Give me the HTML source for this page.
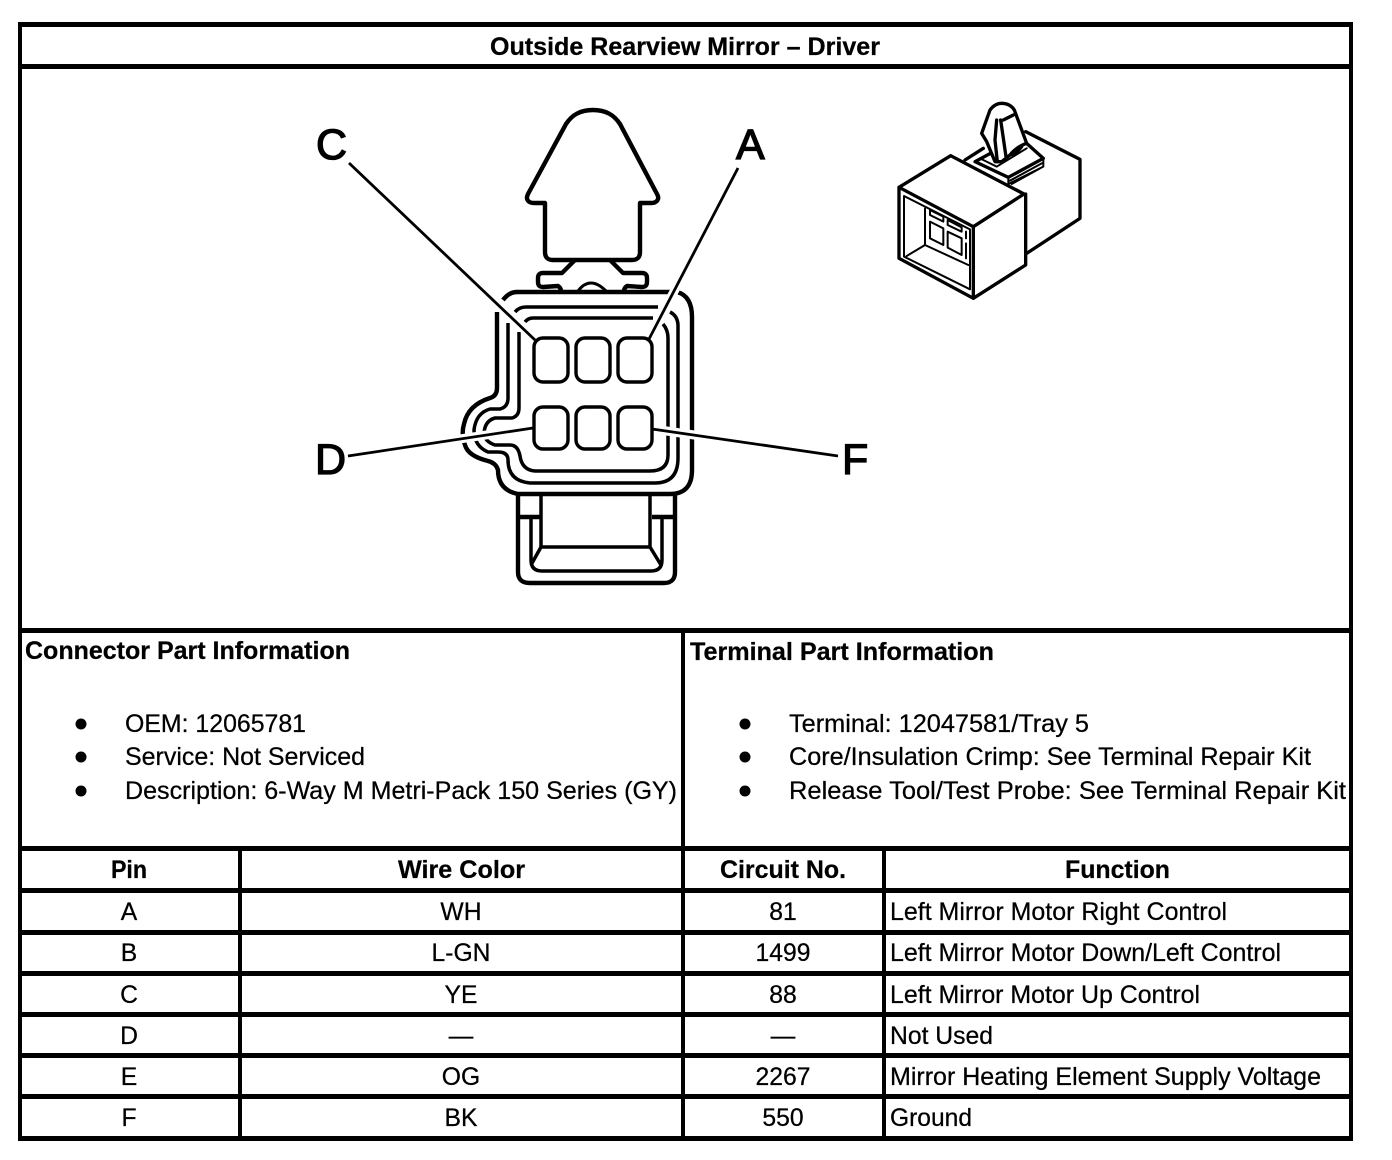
<!DOCTYPE html>
<html><head><meta charset="utf-8"><style>
html,body{margin:0;padding:0;background:#fff}
svg{display:block}
text{font-family:"Liberation Sans",Arial,sans-serif;font-size:24.7px;fill:#000;stroke:#000;stroke-width:.25}
.b{font-weight:bold}
.m{text-anchor:middle}
.l{font-size:43px;stroke-width:1.3}
.tk{fill:none;stroke:#000;stroke-width:4.4;stroke-linejoin:round;stroke-linecap:butt}
.md{fill:none;stroke:#000;stroke-width:3.5;stroke-linejoin:round}
.pin{fill:#fff;stroke:#000;stroke-width:3.4}
.iso{fill:none;stroke:#000;stroke-width:10;stroke-linejoin:round;stroke-linecap:round}
.iso2{fill:none;stroke:#000;stroke-width:6;stroke-linejoin:round;stroke-linecap:round}
</style></head><body>
<svg width="1392" height="1160" viewBox="0 0 1392 1160" xmlns="http://www.w3.org/2000/svg">
<rect width="1392" height="1160" fill="#fff"/>
<g fill="#000" shape-rendering="crispEdges">
<rect x="18" y="22" width="1335" height="5"/>
<rect x="18" y="64" width="1335" height="5"/>
<rect x="18" y="628" width="1335" height="5"/>
<rect x="18" y="846" width="1335" height="5"/>
<rect x="18" y="888" width="1335" height="5"/>
<rect x="18" y="930" width="1335" height="5"/>
<rect x="18" y="971" width="1335" height="5"/>
<rect x="18" y="1012" width="1335" height="5"/>
<rect x="18" y="1053" width="1335" height="5"/>
<rect x="18" y="1094" width="1335" height="5"/>
<rect x="18" y="1136" width="1335" height="5"/>
<rect x="18" y="22" width="4" height="1119"/>
<rect x="1349" y="22" width="4" height="1119"/>
<rect x="681" y="628" width="4" height="513"/>
<rect x="238" y="846" width="4" height="295"/>
<rect x="882" y="846" width="4" height="295"/>
</g>

<!-- main connector -->
<path class="tk" d="M593 110C580 110 572 115 566 124L528 194C525 200 529 203 534 203L545 203L545 252Q545 260 553 260L632 260Q640 260 640 252L640 203L651 203C657 203 660 199 657 194L620 124C614 115 606 110 593 110Z"/>
<path class="tk" d="M575 260L562 273L543 273Q538 273 538 278L538 282Q538 287 543 287L558 286Q561 288 561 291"/>
<path class="tk" d="M610 260L623 273L642 273Q647 273 647 278L647 282Q647 287 642 287L627 286Q624 288 624 291"/>
<path class="tk" style="stroke-width:3" d="M578 291Q590 275 606 291"/>
<path class="tk" d="M503 300Q509 292 517 292L677 292Q692 296 692 317L692 470Q692 494 670 494L518 494Q498 490 498 470Q496 463 488 461Q468 456 465 445Q461 434 464 424Q468 405 490 398Q497 396 497 388L497 312"/>
<path class="md" d="M515 312Q519 307 526 307L658 307M670 312Q678 316 678 326L678 458Q678 483 655 483L530 483Q508 481 508 460Q508 452 498 452L488 452Q474 446 474 430Q476 413 490 409L500 409Q508 407 508 398L508 323"/>
<path class="md" d="M525 322Q528 318 533 318L653 318M663 324Q668 330 668 338L668 455Q668 471 650 471L535 471Q522 470 520 456Q518 445 510 445L495 445Q486 442 484 435Q484 421 495 418L512 418Q519 416 519 408L519 332"/>
<rect class="pin" x="576" y="338" width="34" height="44" rx="9"/>
<rect class="pin" x="576" y="407" width="34" height="42" rx="9"/>
<path class="tk" d="M518 494L518 572Q518 583 530 583L664 583Q675 583 675 572L675 494M518 517H541M652 517H675"/>
<path class="md" d="M541 494V547H650V494M531 517V560Q531 571 542 571L651 571Q662 571 662 560V517M541 547L531 565M650 547L661 565"/>

<!-- leader halos + leaders -->
<g fill="none" stroke="#fff" stroke-width="9">
<path d="M349 163L532 337M738 168L651 336M348 456L532 428M653 429L838 456"/>
</g>
<rect class="pin" x="534" y="338" width="34" height="44" rx="9"/>
<rect class="pin" x="618" y="338" width="34" height="44" rx="9"/>
<rect class="pin" x="534" y="407" width="34" height="42" rx="9"/>
<rect class="pin" x="618" y="407" width="34" height="42" rx="9"/>
<g fill="none" stroke="#000" stroke-width="2.8">
<path d="M349 163L535 340M738 168L648 341M348 456L533 428M652 429L838 456"/>
</g>
<text class="l" x="316" y="159">C</text>
<text class="l" x="736" y="159">A</text>
<text class="l" x="315" y="474">D</text>
<text class="l" x="842" y="474">F</text>

<!-- isometric connector -->
<g transform="translate(880 90) scale(.33333)">
<path class="iso" d="M57 292L212 197L432 312L280 410Z M57 292V505L280 625V410 M280 625L437 525V312 M440 490L600 385V208L437 125 M255 210L310 175"/>
<path class="iso2" d="M72 318L270 418V598L72 500Z M80 498L135 465L265 525 M135 355V465"/>
<path class="iso2" d="M150 360L190 380V395L150 375Z M150 395L190 415V465L150 445Z M203 390L245 412V425L203 405Z M203 425L245 445V495L203 473Z M258 425V445M258 460V505"/>
<path class="iso" style="fill:#fff" d="M285 215L350 180L440 160L490 205L385 262Z"/>
<path class="iso2" d="M385 262V282L490 230V205 M390 272L485 220 M395 282L480 235 M300 205L350 230L440 175"/>
<path class="iso" style="fill:#fff" d="M345 215L320 155L305 130L330 60Q345 40 365 40Q390 40 403 60L440 160Q410 170 390 195L365 215Z"/>
<path class="iso" d="M350 90L345 150L352 215M362 90L378 200M370 90L400 75M390 195Q410 190 425 170"/>
</g>

<text class="b m" x="685" y="55" textLength="390" lengthAdjust="spacingAndGlyphs">Outside Rearview Mirror – Driver</text>
<text class="b" x="25" y="659" textLength="325" lengthAdjust="spacingAndGlyphs">Connector Part Information</text>
<text class="b" x="690" y="660" textLength="304" lengthAdjust="spacingAndGlyphs">Terminal Part Information</text>

<g fill="#000">
<circle cx="81" cy="724" r="5.5"/><circle cx="81" cy="757" r="5.5"/><circle cx="81" cy="791" r="5.5"/>
<circle cx="745" cy="724" r="5.5"/><circle cx="745" cy="757" r="5.5"/><circle cx="745" cy="791" r="5.5"/>
</g>
<text x="125" y="732" textLength="181" lengthAdjust="spacingAndGlyphs">OEM: 12065781</text>
<text x="125" y="765" textLength="240" lengthAdjust="spacingAndGlyphs">Service: Not Serviced</text>
<text x="125" y="799" textLength="552" lengthAdjust="spacingAndGlyphs">Description: 6-Way M Metri-Pack 150 Series (GY)</text>
<text x="789" y="732" textLength="300" lengthAdjust="spacingAndGlyphs">Terminal: 12047581/Tray 5</text>
<text x="789" y="765" textLength="522" lengthAdjust="spacingAndGlyphs">Core/Insulation Crimp: See Terminal Repair Kit</text>
<text x="789" y="799" textLength="557" lengthAdjust="spacingAndGlyphs">Release Tool/Test Probe: See Terminal Repair Kit</text>

<text class="b m" x="129" y="878" textLength="36" lengthAdjust="spacingAndGlyphs">Pin</text>
<text class="b m" x="461.500" y="878" textLength="127" lengthAdjust="spacingAndGlyphs">Wire Color</text>
<text class="b m" x="783" y="878" textLength="126" lengthAdjust="spacingAndGlyphs">Circuit No.</text>
<text class="b m" x="1117.500" y="878" textLength="105" lengthAdjust="spacingAndGlyphs">Function</text>

<text class="m" x="129" y="920">A</text><text class="m" x="461" y="920">WH</text><text class="m" x="783" y="920">81</text><text x="890" y="920" textLength="337" lengthAdjust="spacingAndGlyphs">Left Mirror Motor Right Control</text>
<text class="m" x="129" y="961">B</text><text class="m" x="461" y="961">L-GN</text><text class="m" x="783" y="961">1499</text><text x="890" y="961" textLength="391" lengthAdjust="spacingAndGlyphs">Left Mirror Motor Down/Left Control</text>
<text class="m" x="129" y="1003">C</text><text class="m" x="461" y="1003">YE</text><text class="m" x="783" y="1003">88</text><text x="890" y="1003" textLength="310" lengthAdjust="spacingAndGlyphs">Left Mirror Motor Up Control</text>
<text class="m" x="129" y="1044">D</text><text class="m" x="461" y="1044">—</text><text class="m" x="783" y="1044">—</text><text x="890" y="1044" textLength="103" lengthAdjust="spacingAndGlyphs">Not Used</text>
<text class="m" x="129" y="1085">E</text><text class="m" x="461" y="1085">OG</text><text class="m" x="783" y="1085">2267</text><text x="890" y="1085" textLength="431" lengthAdjust="spacingAndGlyphs">Mirror Heating Element Supply Voltage</text>
<text class="m" x="129" y="1126">F</text><text class="m" x="461" y="1126">BK</text><text class="m" x="783" y="1126">550</text><text x="890" y="1126" textLength="82" lengthAdjust="spacingAndGlyphs">Ground</text>
</svg>
</body></html>
